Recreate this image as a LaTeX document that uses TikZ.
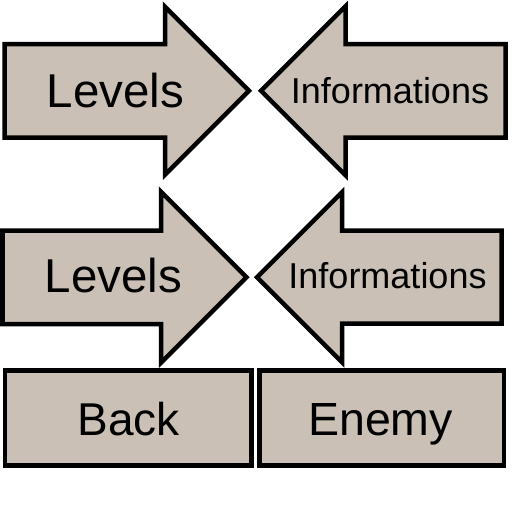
\documentclass[tikz,border=0pt]{standalone}
\usepackage{fontspec}
\setmainfont{Liberation Sans}
\usepackage{xcolor}
\usepackage{tikz}
\definecolor{btnfill}{RGB}{202,192,181}

\begin{document}
\begin{tikzpicture}[x=1pt,y=-1pt]
                    \useasboundingbox (0,0) rectangle (512,512);
                    \tikzset{btn/.style={fill=btnfill,draw=black,line width=4.5pt}}
                    \tikzset{lbl/.style={inner sep=0pt,anchor=base,text=black}}
                    % arrows, top row
                    \draw[btn] (4.5,44)--(165,44)--(165,6.75)--(249,90.75)--(165,174.75)--(165,137.5)--(4.5,137.5)--cycle;
                    \draw[btn] (505.5,44)--(345.5,44)--(345.5,6.25)--(261,90.75)--(345.5,175.25)--(345.5,137.5)--(505.5,137.5)--cycle;
                    % arrows, second row
                    \draw[btn] (2.5,230.5)--(161,230.5)--(161,191.75)--(246.5,277.25)--(161,362.75)--(161,324)--(2.5,324)--cycle;
                    \draw[btn] (501.7,230.5)--(342,230.5)--(342,192.25)--(257,277.25)--(342,362.25)--(342,323.5)--(501.7,323.5)--cycle;
                    % buttons
                    \draw[btn] (5,370.5) rectangle (251.5,465.5);
                    \draw[btn] (259.5,370.5) rectangle (504,465.5);
                    % labels
                    \node[lbl,font=\fontsize{47.5}{47.5}\selectfont] (levA) at (115.5,107){Levels};
                    \node[lbl,font=\fontsize{36}{36}\selectfont] (infoA) at (390,103){Informations};
                    \node[lbl,font=\fontsize{47.5}{47.5}\selectfont] (levB) at (113.5,292){Levels};
                    \node[lbl,font=\fontsize{36}{36}\selectfont] (infoB) at (387.5,288){Informations};
                    \node[lbl,font=\fontsize{46}{46}\selectfont] (back) at (128.5,435){Back};
                    \node[lbl,font=\fontsize{46.5}{46.5}\selectfont] (enemy) at (380.5,435){Enemy};
\end{tikzpicture}
\end{document}
